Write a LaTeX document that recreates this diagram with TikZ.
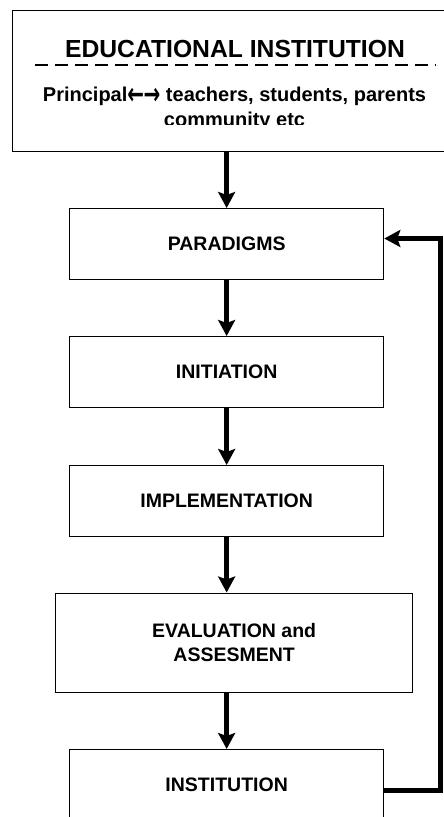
\documentclass[tikz,border=0pt]{standalone}
\usepackage{fontspec}
\usepackage{graphicx}
\setmainfont{Liberation Sans}
\newfontfamily\arrfont{DejaVu Sans}
\usetikzlibrary{arrows.meta}
\newcommand{\twoarrows}{{\arrfont\bfseries\fontsize{20}{24}\selectfont\raisebox{-2.5pt}{\scalebox{1}[1.5]{←}\kern-0.5pt\scalebox{1}[1.5]{→}}}}
\begin{document}
\begin{tikzpicture}[x=1pt,y=-1pt,
  box/.style={draw, line width=1.3pt, inner sep=0pt, align=center,
    font=\fontsize{19.5}{23.3}\selectfont\bfseries},
  flow/.style={line width=4.5pt, -{Stealth[length=16pt,width=17pt,inset=3pt]}},
  fb/.style={line width=5pt, line join=miter, -{Stealth[length=16pt,width=17pt,inset=3pt]}},
  ttl/.style={anchor=base, inner sep=0pt, font=\fontsize{24.7}{28}\selectfont\bfseries},
  sub/.style={anchor=base, inner sep=0pt, font=\fontsize{20}{24}\selectfont\bfseries}]
\useasboundingbox (0,0) rectangle (444,817);
% top box
\node[box, minimum width=446pt, minimum height=141pt, anchor=north west] (edu) at (12,9.5) {};
\node[ttl] (title) at (235,57.3) {EDUCATIONAL INSTITUTION};
\coordinate (dl) at (35,65);
\coordinate (dr) at (436,65);
\draw[line width=1.5pt, dash pattern=on 13pt off 7pt] (dl) -- (dr);
\node[sub] (sub1) at (234.5,101.7) {Principal\twoarrows\ teachers, students, parents};
\begin{scope}
  \clip (0,0) rectangle (444,124.5);
  \node[sub] (sub2) at (234.5,126) {community etc};
\end{scope}
% flow boxes
\node[box, minimum width=314pt, minimum height=71pt, anchor=north west] (para) at (69,208) {PARADIGMS};
\node[box, minimum width=314pt, minimum height=71pt, anchor=north west] (init) at (69,336) {INITIATION};
\node[box, minimum width=314pt, minimum height=71pt, anchor=north west] (impl) at (69,465) {IMPLEMENTATION};
\node[box, minimum width=357pt, minimum height=99pt, anchor=north west] (eval) at (55,592.5) {EVALUATION and\\ASSESMENT};
\node[box, minimum width=314pt, minimum height=71pt, anchor=north west] (inst) at (69,749) {INSTITUTION};
% arrows
\draw[flow] (edu.south -| para.north) -- (para.north);
\draw[flow] (para.south) -- (init.north);
\draw[flow] (init.south) -- (impl.north);
\draw[flow] (impl.south) -- (impl.south |- eval.north);
\draw[flow] (eval.south -| inst.north) -- (inst.north);
% feedback
\coordinate (fbb) at (440,790.7);
\coordinate (fbt) at (440,238.5);
\draw[fb] (inst.east |- fbb) -- (fbb) -- (fbt) -- (para.east |- fbt);
\end{tikzpicture}
\end{document}
